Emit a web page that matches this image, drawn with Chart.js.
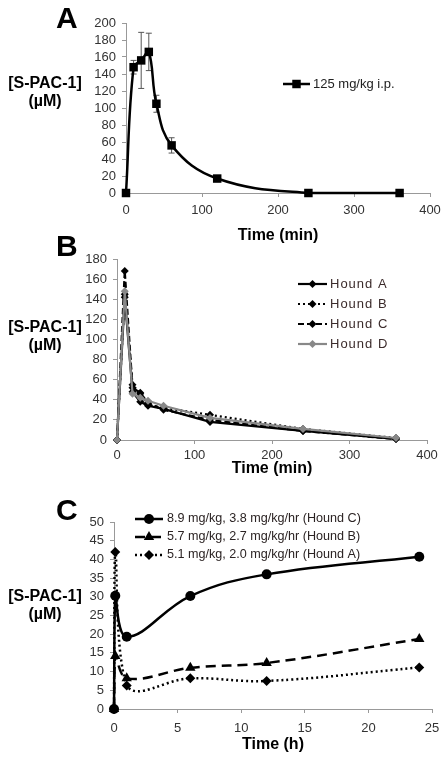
<!DOCTYPE html>
<html>
<head>
<meta charset="utf-8">
<script src="https://cdn.jsdelivr.net/npm/chart.js@4/dist/chart.umd.min.js"></script>
<style>
  body { margin: 0; width: 448px; height: 761px; background: #fff; position: relative; overflow: hidden;
         font-family: Arial, "Liberation Sans", sans-serif; }
  .box { position: absolute; left: 0; width: 448px; }
  .letter { position: absolute; font-weight: bold; font-size: 30px; line-height: 30px; z-index: 2; }
  .ylab { position: absolute; left: -5px; width: 100px; text-align: center; font-weight: bold;
          font-size: 16px; line-height: 18px; z-index: 2; }
</style>
</head>
<body>

<div class="letter" style="left:56px; top:3px;">A</div>
<div class="ylab" style="top:74px;">[S-PAC-1]<br>(µM)</div>
<div class="box" style="top:0; height:250px;"><canvas id="chartA"></canvas></div>

<div class="letter" style="left:56px; top:231px;">B</div>
<div class="ylab" style="top:318px;">[S-PAC-1]<br>(µM)</div>
<div class="box" style="top:245px; height:235px;"><canvas id="chartB"></canvas></div>

<div class="letter" style="left:56px; top:495px;">C</div>
<div class="ylab" style="top:587px;">[S-PAC-1]<br>(µM)</div>
<div class="box" style="top:480px; height:281px;"><canvas id="chartC"></canvas></div>

<script>
Chart.defaults.font.family = 'Arial, "Liberation Sans", sans-serif';
Chart.defaults.animation = false;

// --- DATA ---

// A : 125 mg/kg i.p., time in min
const timeA = [0, 10, 20, 30, 40, 60, 120, 240, 360];
const concA = [0, 148, 156, 166, 105, 56, 17, 0, 0];
const errA  = [0, 8, 33, 22, 10, 9, 3, 0, 0];

// B : four hounds, time in min
const timeB   = [0, 10, 20, 30, 40, 60, 120, 240, 360];
const houndAB = [0, 142, 48, 38, 34, 31, 18, 9, 1];
const houndBB = [0, 145, 55, 46, 35, 32, 25, 11, 2];
const houndCB = [0, 168, 52, 47, 37, 30, 20, 9, 1];
const houndDB = [0, 148, 46, 42, 39, 34, 22, 11, 2];

// C : infusion, time in h
const timeCC  = [0, 0.1, 1, 6, 12, 24];
const houndCC = [0, 30.3, 19.3, 30.2, 36.0, 40.7];
const timeCB  = [0, 0.1, 1, 6, 12, 24];
const houndBC = [0, 14.2, 8.2, 11.0, 12.3, 18.7];
const timeCA  = [0, 0.1, 1, 6, 12, 24];
const houndAC = [0, 42, 6.3, 8.2, 7.5, 11.1];

const labelsA = ['125 mg/kg i.p.'];
const labelsB = ['Hound A', 'Hound B', 'Hound C', 'Hound D'];
const labelsC = ['8.9 mg/kg, 3.8 mg/kg/hr (Hound C)', '5.7 mg/kg, 2.7 mg/kg/hr (Hound B)', '5.1 mg/kg, 2.0 mg/kg/hr (Hound A)'];

const pts = (xs, ys) => xs.map((x, i) => ({x: x, y: ys[i]}));


// --- PLUGINS ---

const innerLegend = {
  id: 'innerLegend',
  afterDraw(chart, args, opts) {
    if (!opts.show) return;
    const ctx = chart.ctx;
    ctx.save();
    ctx.font = opts.font;
    ctx.textBaseline = 'middle';
    chart.data.datasets.forEach((ds, i) => {
      const y = opts.y + i * opts.rowGap;
      ctx.strokeStyle = ds.borderColor;
      ctx.lineWidth = ds.borderWidth;
      ctx.setLineDash(ds.borderDash || []);
      ctx.beginPath();
      ctx.moveTo(opts.x, y);
      ctx.lineTo(opts.x + opts.sample, y);
      ctx.stroke();
      ctx.setLineDash([]);
      ctx.fillStyle = ds.pointBackgroundColor;
      Chart.helpers.drawPoint(ctx, {pointStyle: ds.pointStyle, radius: ds.pointRadius, borderWidth: 0, rotation: 0},
        opts.x + opts.sample / 2, y);
      ctx.fillStyle = opts.color;
      if ('letterSpacing' in ctx) ctx.letterSpacing = opts.spacing || '0px';
      ctx.fillText(ds.label, opts.x + opts.sample + opts.gap, y);
      if ('letterSpacing' in ctx) ctx.letterSpacing = '0px';
    });
    ctx.restore();
  }
};

const errorBars = {
  id: 'errorBars',
  beforeDatasetsDraw(chart, args, opts) {
    if (!opts.values) return;
    const {ctx, scales: {x, y}} = chart;
    ctx.save();
    ctx.strokeStyle = '#555';
    ctx.lineWidth = 1;
    opts.values.forEach((e, i) => {
      if (!e) return;
      const px = x.getPixelForValue(opts.times[i]);
      const top = y.getPixelForValue(opts.means[i] + e);
      const bot = y.getPixelForValue(opts.means[i] - e);
      ctx.beginPath();
      ctx.moveTo(px, top); ctx.lineTo(px, bot);
      ctx.moveTo(px - 3, top); ctx.lineTo(px + 3, top);
      ctx.moveTo(px - 3, bot); ctx.lineTo(px + 3, bot);
      ctx.stroke();
    });
    ctx.restore();
  }
};


// --- CHART BUILDER ---

const makeChart = (id, datasets, c) => {
  datasets.forEach(d => { d.clip = false; });
  return new Chart(document.getElementById(id), {
    type: 'line',
    data: { datasets: datasets },
    plugins: [innerLegend, errorBars],
    options: {
      responsive: true,
      maintainAspectRatio: false,
      devicePixelRatio: 1,
      layout: { padding: { top: c.top, right: c.right, left: 0, bottom: 0 } },
      plugins: {
        legend: false,
        tooltip: { enabled: false },
        innerLegend: c.legend,
        errorBars: c.err || {}
      },
      scales: {
        x: {
          type: 'linear', min: 0, max: c.xMax,
          afterFit: s => { s.height = c.xHeight; },
          ticks: { stepSize: c.xStep, color: '#333', font: { size: 13 }, padding: c.tickPad, maxRotation: 0, autoSkip: false },
          grid: { display: true, drawOnChartArea: false, tickLength: 4, color: '#999' },
          border: { color: '#999' },
          title: { display: true, text: c.xTitle, color: '#000', font: { size: 16, weight: 'bold' },
                   padding: { top: 0, bottom: c.titlePad } }
        },
        y: {
          min: 0, max: c.yMax,
          afterFit: s => { s.width = c.yWidth; },
          ticks: { stepSize: c.yStep, color: '#333', font: { size: 13 }, padding: 6, autoSkip: false },
          grid: { display: true, drawOnChartArea: false, tickLength: 4, color: '#999' },
          border: { color: '#999' }
        }
      }
    }
  });
};


// --- A ---
makeChart('chartA', [{
  label: labelsA[0],
  data: pts(timeA, concA),
  borderColor: '#000', borderWidth: 2.5,
  pointStyle: 'rect', pointRadius: 6, pointBackgroundColor: '#000', pointBorderWidth: 0,
  tension: 0.4
}], {
  top: 23, right: 18, yWidth: 126, xHeight: 57, tickPad: 6, titlePad: 5,
  xMax: 400, xStep: 100, yMax: 200, yStep: 20, xTitle: 'Time (min)',
  legend: { show: true, x: 283, y: 84, rowGap: 20, sample: 27, gap: 3, font: '13px Arial, "Liberation Sans"', color: '#222' },
  err: { values: errA, times: timeA, means: concA }
});

// --- B ---
const styleB = (label, ys, color, dash, order) => ({
  label: label, data: pts(timeB, ys),
  borderColor: color, borderWidth: 2.2, borderDash: dash,
  pointStyle: 'rectRot', pointRadius: 4, pointBackgroundColor: color, pointBorderWidth: 0,
  tension: 0, order: order
});
makeChart('chartB', [
  styleB(labelsB[0], houndAB, '#000', [], 1),
  styleB(labelsB[1], houndBB, '#000', [2, 3], 1),
  styleB(labelsB[2], houndCB, '#000', [6, 3], 1),
  styleB(labelsB[3], houndDB, '#888', [], 0)
], {
  top: 14, right: 21, yWidth: 117, xHeight: 40, tickPad: 4, titlePad: 2,
  xMax: 400, xStep: 100, yMax: 180, yStep: 20, xTitle: 'Time (min)',
  legend: { show: true, x: 298, y: 39, rowGap: 20, sample: 29, gap: 3, font: '13px Arial, "Liberation Sans"', color: '#3b2b2b', spacing: '1px' }
});

// --- C ---
makeChart('chartC', [
  { label: labelsC[0], data: pts(timeCC, houndCC), borderColor: '#000', borderWidth: 2.5,
    pointStyle: 'circle', pointRadius: 5, pointBackgroundColor: '#000', pointBorderWidth: 0, tension: 0.4 },
  { label: labelsC[1], data: pts(timeCB, houndBC), borderColor: '#000', borderWidth: 2.5, borderDash: [10, 6],
    pointStyle: 'triangle', pointRadius: 6, pointBackgroundColor: '#000', pointBorderWidth: 0, tension: 0.4 },
  { label: labelsC[2], data: pts(timeCA, houndAC), borderColor: '#000', borderWidth: 2.5, borderDash: [2, 3],
    pointStyle: 'rectRot', pointRadius: 5, pointBackgroundColor: '#000', pointBorderWidth: 0, tension: 0.4 }
], {
  top: 42, right: 16, yWidth: 114, xHeight: 52, tickPad: 8, titlePad: 7,
  xMax: 25, xStep: 5, yMax: 50, yStep: 5, xTitle: 'Time (h)',
  legend: { show: true, x: 135, y: 39, rowGap: 18, sample: 28, gap: 4, font: '12.6px Arial, "Liberation Sans"', color: '#2b2323' }
});
</script>
</body>
</html>
